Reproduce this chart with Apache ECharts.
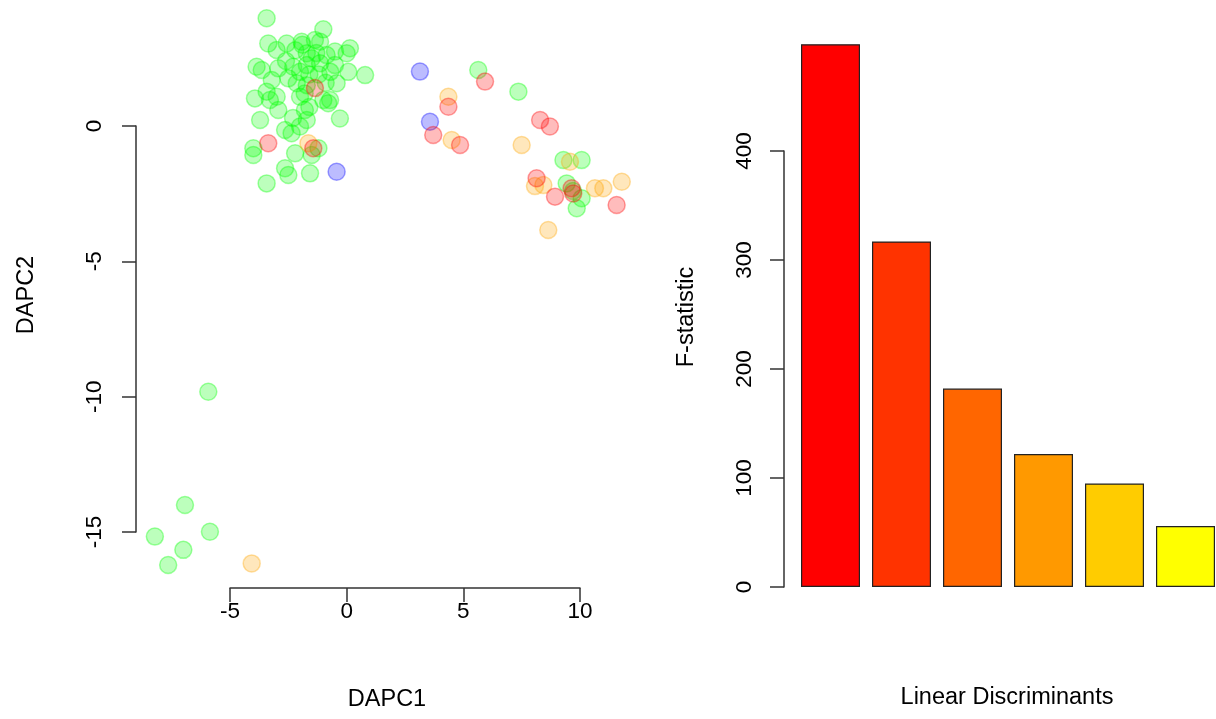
<!DOCTYPE html>
<html>
<head>
<meta charset="utf-8">
<script src="https://cdn.jsdelivr.net/npm/echarts@6/dist/echarts.min.js"></script>
<style>
  html, body { margin: 0; padding: 0; background: #fff; }
  #chart { width: 1216px; height: 719px; }
</style>
</head>
<body>
<div id="chart"></div>
<script>
// DAPC scatter: individuals on the first two discriminant axes, by cluster
const greenPts = [
  [-3.43, 3.98], [-1.00, 3.57], [-3.36, 3.05], [-2.57, 3.05], [-1.93, 3.11], [-1.36, 3.18],
  [-1.14, 3.11], [-3.00, 2.81], [-0.50, 2.75], [0.14, 2.87], [0.00, 2.69], [-1.71, 2.69],
  [-0.86, 2.62], [-3.86, 2.19], [-3.64, 2.07], [-2.93, 2.13], [-2.29, 2.19], [-1.71, 2.25],
  [-1.14, 2.32], [-0.50, 2.25], [0.07, 2.00], [0.79, 1.88], [-3.93, 1.02], [-3.43, 1.27],
  [-3.00, 1.08], [-2.14, 1.58], [-1.71, 1.51], [-0.71, 0.96], [-0.43, 1.58], [-2.50, 1.76],
  [-3.21, 1.70], [-2.00, 1.08], [-1.00, 0.96], [-3.29, 0.96], [-0.79, 0.84], [-3.71, 0.22],
  [-2.93, 0.59], [-1.79, 0.59], [-1.71, 0.22], [-0.29, 0.28], [-2.64, -0.15], [-2.36, -0.27],
  [-2.00, -0.02], [-4.00, -0.82], [-4.00, -1.07], [-1.21, -0.82], [-2.21, -1.01], [-1.50, -1.07],
  [-2.64, -1.56], [-2.50, -1.81], [-1.57, -1.75], [-3.43, -2.12], [-1.50, 2.50], [-2.00, 2.00],
  [-1.20, 1.90], [-2.60, 2.40], [-1.80, 1.20], [-0.90, 1.60], [-1.60, 0.70], [-2.30, 0.30],
  [-1.90, 3.00], [-1.30, 2.70], [-2.20, 2.80], [-1.60, 1.90], [-0.70, 2.00],
  [5.64, 2.07], [7.36, 1.27], [9.29, -1.26], [10.07, -1.26], [9.43, -2.12], [10.07, -2.67],
  [9.86, -3.04], [9.70, -2.40],
  [-5.93, -9.82], [-6.93, -14.00], [-5.86, -14.99], [-8.22, -15.17], [-7.00, -15.66], [-7.65, -16.22]
];
const bluePts = [[3.14, 2.01], [3.57, 0.16], [-0.43, -1.69]];
const orangePts = [
  [-1.64, -0.64], [4.36, 1.08], [4.50, -0.52], [7.50, -0.70], [9.57, -1.32], [8.07, -2.22],
  [8.43, -2.18], [10.64, -2.30], [11.00, -2.30], [11.79, -2.06], [8.64, -3.84], [-4.07, -16.16]
];
const redPts = [
  [-1.36, 1.40], [-3.36, -0.64], [-1.43, -0.82], [5.93, 1.64], [4.36, 0.71], [3.71, -0.33],
  [4.86, -0.70], [8.29, 0.22], [8.71, -0.02], [8.14, -1.93], [9.64, -2.30], [9.71, -2.49],
  [8.93, -2.61], [11.57, -2.92]
];

// F-statistic of each linear discriminant
const ldNames = ['LD1', 'LD2', 'LD3', 'LD4', 'LD5', 'LD6'];
const fStats = [498, 317, 182, 122, 95, 56];
const barColors = ['#FF0000', '#FF3300', '#FF6600', '#FF9900', '#FFCC00', '#FFFF00'];

const xTicks = [-5, 0, 5, 10];
const yTicks = [-15, -10, -5, 0];
const fTicks = [0, 100, 200, 300, 400];

const FONT = 'Liberation Sans, Arial, sans-serif';
const FS = 22.5;    // tick labels
const FT = 23.5;    // axis titles
const axisLineStyle = { color: '#333', width: 1.5 };

function pointSeries(data, rgb) {
  return {
    type: 'scatter',
    xAxisIndex: 0,
    yAxisIndex: 0,
    data: data,
    symbol: 'circle',
    symbolSize: 17,
    clip: false,
    silent: true,
    itemStyle: {
      color: 'rgba(' + rgb + ',0.33)',
      borderColor: 'rgba(' + rgb + ',0.45)',
      borderWidth: 1.5
    }
  };
}

const chart = echarts.init(document.getElementById('chart'), null, { renderer: 'canvas' });

chart.setOption({
  backgroundColor: '#ffffff',
  animation: false,
  textStyle: { fontFamily: FONT },
  grid: [
    { left: 230, width: 350, top: 126, height: 406, outerBoundsMode: 'none' },
    { left: 795, width: 426, top: 151, height: 436, outerBoundsMode: 'none' }
  ],
  xAxis: [
    {
      gridIndex: 0, type: 'value', min: xTicks[0], max: xTicks[xTicks.length - 1], interval: 5,
      offset: 56,
      axisLine: { show: true, onZero: false, lineStyle: axisLineStyle },
      axisTick: { show: true, length: 14, lineStyle: axisLineStyle },
      axisLabel: { margin: 12, fontSize: FS, color: '#000', fontFamily: FONT },
      splitLine: { show: false }
    },
    {
      gridIndex: 1, type: 'category', data: ldNames,
      axisLine: { show: false }, axisTick: { show: false }, axisLabel: { show: false },
      splitLine: { show: false }
    }
  ],
  yAxis: [
    {
      gridIndex: 0, type: 'value', min: yTicks[0], max: yTicks[yTicks.length - 1], interval: 5,
      offset: 94,
      axisLine: { show: true, onZero: false, lineStyle: axisLineStyle },
      axisTick: { show: true, length: 14, lineStyle: axisLineStyle },
      axisLabel: { margin: 30, rotate: 90, fontSize: FS, color: '#000', fontFamily: FONT },
      splitLine: { show: false }
    },
    {
      gridIndex: 1, type: 'value', min: fTicks[0], max: fTicks[fTicks.length - 1], interval: 100,
      offset: 11,
      axisLine: { show: true, onZero: false, lineStyle: axisLineStyle },
      axisTick: { show: true, length: 14, lineStyle: axisLineStyle },
      axisLabel: { margin: 28, rotate: 90, fontSize: FS, color: '#000', fontFamily: FONT },
      splitLine: { show: false }
    }
  ],
  series: [
    pointSeries(greenPts, '0,255,0'),
    pointSeries(bluePts, '0,0,255'),
    pointSeries(orangePts, '255,165,0'),
    pointSeries(redPts, '255,0,0'),
    {
      type: 'bar',
      xAxisIndex: 1,
      yAxisIndex: 1,
      clip: false,
      silent: true,
      barWidth: 59,
      data: fStats.map((v, i) => ({
        value: v,
        itemStyle: { color: barColors[i], borderColor: '#222', borderWidth: 1.2 }
      }))
    }
  ],
  graphic: [
    { type: 'text', x: 387, y: 700, style: { text: 'DAPC1', font: FT + 'px ' + FONT, fill: '#000', textAlign: 'center', textVerticalAlign: 'middle' } },
    { type: 'text', x: 27, y: 295, rotation: Math.PI / 2, style: { text: 'DAPC2', font: FT + 'px ' + FONT, fill: '#000', textAlign: 'center', textVerticalAlign: 'middle' } },
    { type: 'text', x: 687, y: 317, rotation: Math.PI / 2, style: { text: 'F-statistic', font: FT + 'px ' + FONT, fill: '#000', textAlign: 'center', textVerticalAlign: 'middle' } },
    { type: 'text', x: 1007, y: 698, style: { text: 'Linear Discriminants', font: FT + 'px ' + FONT, fill: '#000', textAlign: 'center', textVerticalAlign: 'middle' } }
  ]
});
</script>
</body>
</html>
